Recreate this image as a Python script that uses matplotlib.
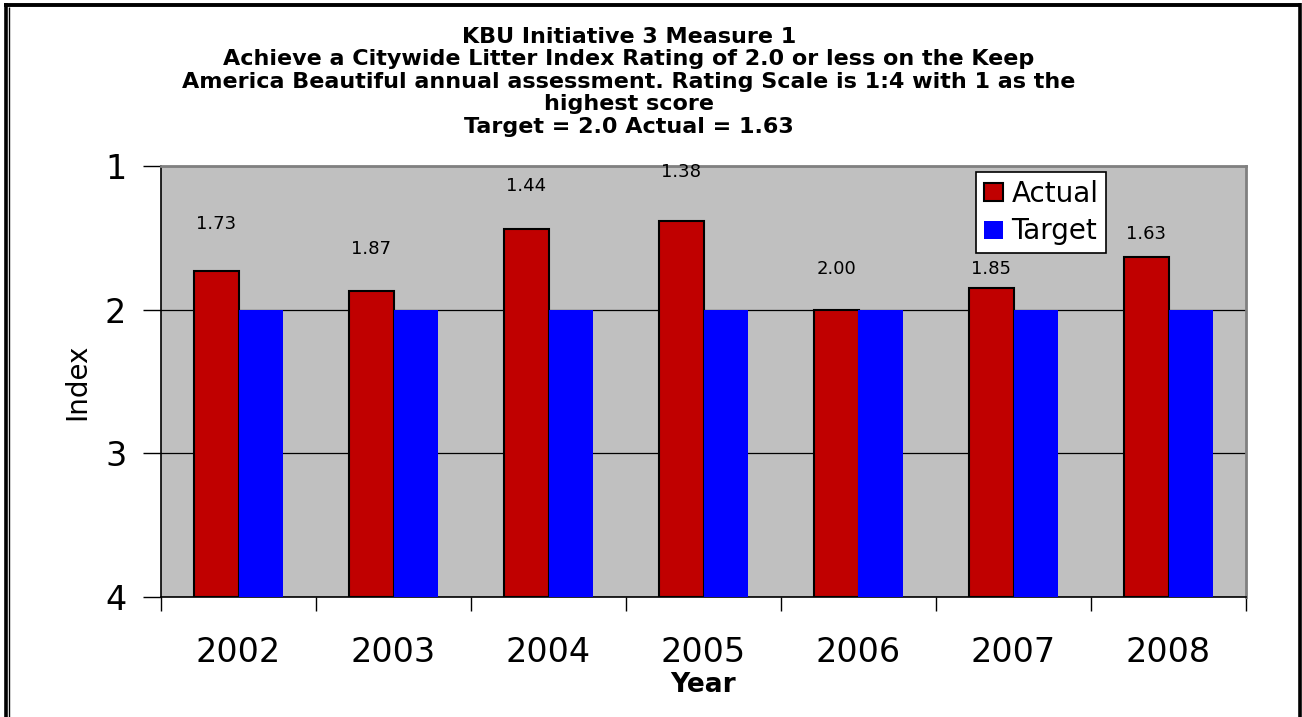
import matplotlib
matplotlib.use("Agg")
import matplotlib.pyplot as plt
from matplotlib.lines import Line2D
from matplotlib.patches import Patch
import numpy as np

years = ["2002", "2003", "2004", "2005", "2006", "2007", "2008"]
actual = [1.73, 1.87, 1.44, 1.38, 2.00, 1.85, 1.63]
target = [2.0, 2.0, 2.0, 2.0, 2.0, 2.0, 2.0]
yticks = [1, 2, 3, 4]
title_lines = [
    "KBU Initiative 3 Measure 1",
    "Achieve a Citywide Litter Index Rating of 2.0 or less on the Keep",
    "America Beautiful annual assessment. Rating Scale is 1:4 with 1 as the",
    "highest score",
    "Target = 2.0 Actual = 1.63",
]
# label offsets above bar top, in points (style)
label_offsets = [34, 30, 31, 35, 29, 14, 16]

plt.rcParams['font.family'] = ['DejaVu Sans']

W, H = 1302, 717
fig = plt.figure(figsize=(W / 100, H / 100), dpi=100)
fig.patch.set_facecolor("white")

ax = fig.add_axes([161 / W, 1 - 597 / H, (1246 - 161) / W, (597 - 166) / H])
ax.set_facecolor("#C0C0C0")

x = np.arange(len(years))
bw = 0.29
ax.bar(x - bw / 2, np.array(actual) - 4, bottom=4, width=bw, color="#C00000",
       edgecolor="black", linewidth=1.5, zorder=3, label="Actual")
ax.bar(x + bw / 2, np.array(target) - 4, bottom=4, width=bw, color="#0000FF",
       edgecolor="none", linewidth=0, zorder=3, label="Target")

for xi, v, off in zip(x, actual, label_offsets):
    ax.annotate(f"{v:.2f}", xy=(xi - bw / 2, v), xytext=(0, off),
                textcoords="offset points", ha="center", va="center",
                fontsize=13, color="black", zorder=5, annotation_clip=False)

ax.set_xlim(-0.5, len(years) - 0.5)
ax.set_ylim(4, 1)
ax.set_yticks(yticks)
ax.set_yticklabels([str(t) for t in yticks], fontsize=24)
ax.yaxis.grid(True, color="black", linewidth=0.9, zorder=1)
ax.set_axisbelow(True)

ax.set_xticks(np.arange(len(years) + 1) - 0.5, minor=False)
ax.set_xticklabels([])
ax.set_xticks(x, minor=True)
ax.set_xticklabels(years, minor=True, fontsize=24)
ax.tick_params(axis="x", which="major", length=10, width=1, direction="out", color="black")
ax.tick_params(axis="x", which="minor", length=0, pad=28)
ax.tick_params(axis="y", length=13, width=1, direction="out", color="black", pad=12)

for s in ["left", "bottom"]:
    ax.spines[s].set_color("black")
    ax.spines[s].set_linewidth(1.2)
for s in ["top", "right"]:
    ax.spines[s].set_color("#808080")
    ax.spines[s].set_linewidth(2)

ax.set_ylabel("Index", fontsize=20, labelpad=10)
ax.set_xlabel("Year", fontsize=19, fontweight="bold", labelpad=2)

leg_handles = [Patch(facecolor="#C00000", edgecolor="black", linewidth=1.5),
               Patch(facecolor="#0000FF", edgecolor="none")]
leg = ax.legend(leg_handles, ["Actual", "Target"], loc="upper left",
                bbox_to_anchor=((976 - 161) / (1246 - 161), 1 - (172 - 166) / (597 - 166)),
                fontsize=20, frameon=True, fancybox=False, edgecolor="black",
                framealpha=1, handlelength=0.7, handleheight=0.6, handletextpad=0.3,
                borderpad=0.28, labelspacing=0.35, borderaxespad=0)
leg.get_frame().set_linewidth(1.2)
leg.set_zorder(10)

fig.text(629 / W, 1 - 27 / H, "\n".join(title_lines), ha="center", va="top",
         fontsize=16, fontweight="bold", linespacing=1.15)

# figure frame
def fline(xs, ys, lw):
    fig.add_artist(Line2D([a / W for a in xs], [1 - b / H for b in ys],
                          color="black", linewidth=lw, transform=fig.transFigure,
                          solid_capstyle="butt"))

fline([5.5, 5.5], [3, H], 2.6)
fline([9.2, 9.2], [7, H], 1.0)
fline([4, 1301], [4.7, 4.7], 2.8)
fline([1299.6, 1299.6], [3, H], 2.6)

fig.savefig("out.png", dpi=100, facecolor="white")
